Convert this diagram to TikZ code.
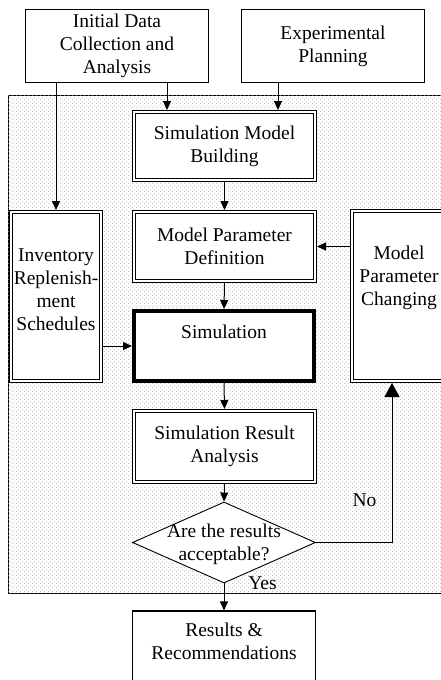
\documentclass[tikz,border=0pt]{standalone}
\usepackage{fontspec}
\setmainfont{Liberation Serif}
\usetikzlibrary{shapes.geometric,arrows.meta,patterns.meta}
\tikzdeclarepattern{
  name=fdots,
  type=uncolored,
  bounding box={(0pt,0pt) and (4.2pt,4.2pt)},
  tile size={(4.2pt,4.2pt)},
  code={
    \fill (0pt,0pt) rectangle (1.2pt,0.7pt);
    \fill (2.1pt,2.1pt) rectangle (3.3pt,2.8pt);
  }
}
\tikzset{
  base/.style={inner sep=0pt, align=center, fill=white, font=\fontsize{19.5}{23}\selectfont},
  plainbox/.style={base, draw, line width=1.1pt},
  dblbox/.style={base, draw, line width=1pt, double=white, double distance=1.6pt, outer sep=1.8pt},
  thickbox/.style={base, draw, line width=4pt},
  decision/.style={base, draw, shape=diamond, line width=0.9pt},
  lbl/.style={inner sep=0pt, align=center, font=\fontsize{19.5}{23}\selectfont},
  arr/.style={line width=1pt, -{Triangle[length=9pt,width=8pt]}},
  bigarr/.style={line width=1pt, -{Triangle[length=14pt,width=15pt]}},
  frame/.style={draw, line width=1pt, fill=white, postaction={pattern=fdots, pattern color=gray!70}}
}
\begin{document}
\begin{tikzpicture}[x=1pt,y=-1pt]
\useasboundingbox (0,0) rectangle (441,680);
% shaded frame
\node[frame, minimum width=452pt, minimum height=498pt, inner sep=0pt] (frm) at (234,344) {};
% top boxes
\node[plainbox, minimum width=183pt, minimum height=73pt] (init) at (117,46) {Initial Data\\Collection and\\Analysis};
\node[plainbox, minimum width=183pt, minimum height=73pt] (exp) at (333,46) {Experimental\\Planning};
% inner boxes
\node[dblbox, minimum width=181.4pt, minimum height=68.4pt] (smb) at (224.5,146) {Simulation Model\\Building};
\node[dblbox, minimum width=181.4pt, minimum height=69.4pt] (mpd) at (224.5,246.5) {Model Parameter\\Definition};
\node[dblbox, minimum width=90.4pt, minimum height=169.4pt,
      label={[lbl, yshift=7pt]center:Inventory\\Replenish-\\ment\\Schedules}] (inv) at (56,296.5) {};
\node[dblbox, minimum width=94.4pt, minimum height=170.4pt,
      label={[lbl, yshift=18pt]center:Model\\Parameter\\Changing}] (mpc) at (399,296) {};
\node[thickbox, minimum width=180pt, minimum height=70pt,
      label={[lbl, yshift=14pt]center:Simulation}] (sim) at (224,346) {};
\node[dblbox, minimum width=181.4pt, minimum height=71.4pt] (sra) at (224.5,446.5) {Simulation Result\\Analysis};
\node[decision, minimum width=183pt, minimum height=81pt,
      label={[lbl, yshift=-2pt]center:Are the results\\acceptable?}] (dia) at (224,542.5) {};
% bottom box
\node[plainbox, minimum width=183pt, minimum height=90pt] (res) at (224,656) {};
\node[lbl] (restxt) at (224,641.5) {Results \&\\Recommendations};
% connectors
\draw[arr] (init.south -| inv.north) -- (inv.north);
\draw[arr] ([xshift=50pt]init.south) -- ([xshift=50pt]init.south |- smb.north);
\draw[arr] ([xshift=-55pt]exp.south) -- ([xshift=-55pt]exp.south |- smb.north);
\draw[arr] (smb.south) -- (mpd.north);
\draw[arr] (mpc.west |- mpd.east) -- (mpd.east);
\draw[arr] (mpd.south) -- (sim.north);
\draw[arr] (inv.east |- sim.west) -- (sim.west);
\draw[arr] (sim.south) -- (sra.north);
\draw[arr] (sra.south) -- (dia.north);
\draw[bigarr] (dia.east) -| ([xshift=-7pt]mpc.south);
\draw[arr] (dia.south) -- (res.north);
\node[lbl] (no) at (364.5,500) {No};
\node[lbl] (yes) at (262.5,583) {Yes};
\end{tikzpicture}
\end{document}
